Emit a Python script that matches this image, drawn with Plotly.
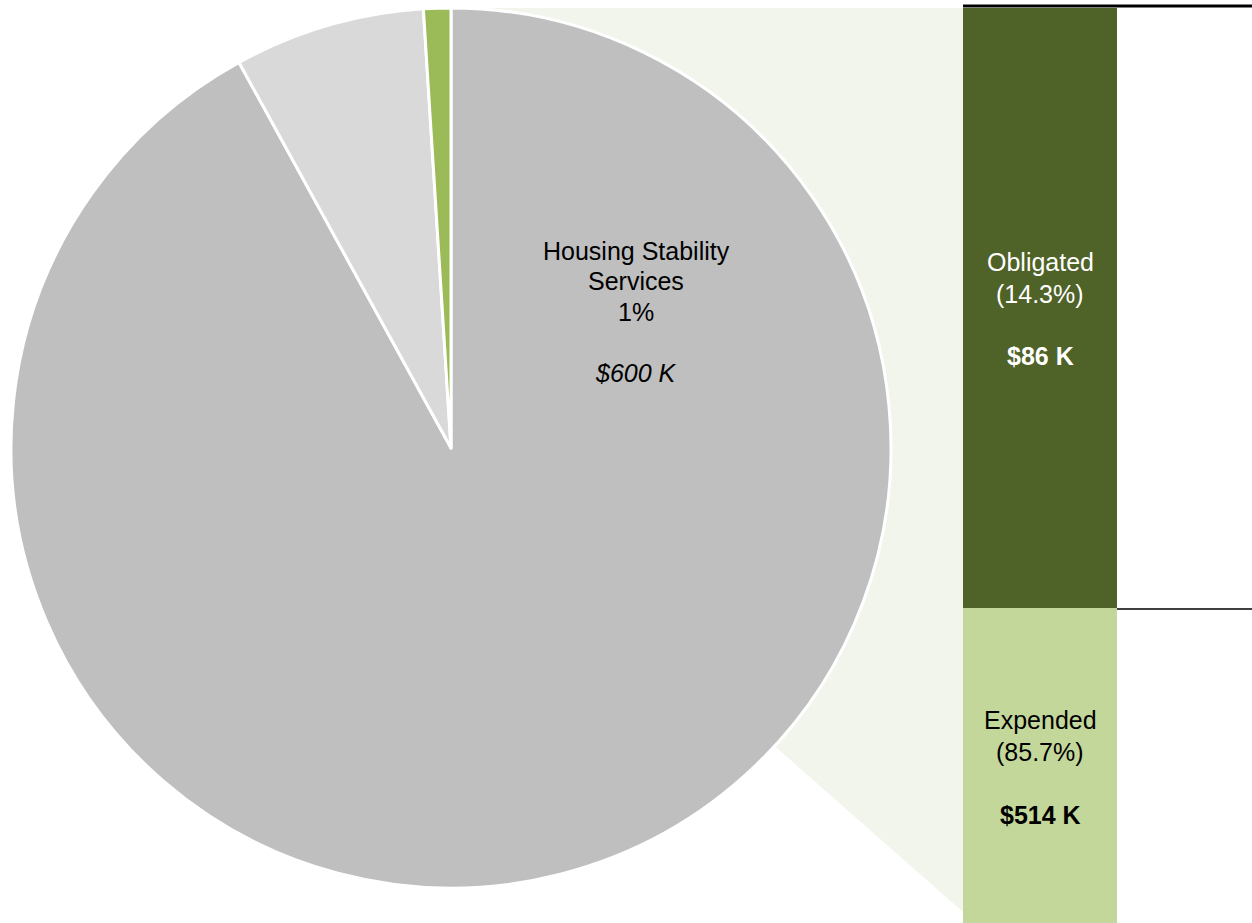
import plotly.graph_objects as go

W, H = 1252, 923

# ---- data ----
pie_labels = ["Other (dark)", "Other (light)", "Housing Stability Services"]
pie_values = [92, 7, 1]
pie_colors = ["#BFBFBF", "#D9D9D9", "#9BBB59"]
hss_name_lines = ["Housing Stability", "Services"]
hss_amount_k = 600
hss_pct = 1

bar_categories = ["Housing Stability Services"]
bar_series = ["Expended", "Obligated"]
bar_values_k = [514, 86]
bar_colors = ["#C4D79B", "#4F6228"]
bar_text_colors = ["black", "white"]


def px_x(x):
    return x / W


def px_y(y):
    return 1 - y / H


FONT = "Liberation Sans, Arial, sans-serif"
FS = 25

fig = go.Figure()

# pie
fig.add_trace(go.Pie(
    labels=pie_labels, values=pie_values, sort=False, direction="clockwise",
    rotation=0, marker=dict(colors=pie_colors, line=dict(color="white", width=3)),
    textinfo="none", hoverinfo="label+percent", showlegend=False,
    domain=dict(x=[px_x(11), px_x(891)], y=[px_y(888), px_y(8)]),
))

# stacked bar
for name, val, col in zip(bar_series, bar_values_k, bar_colors):
    fig.add_trace(go.Bar(x=bar_categories, y=[val], name=name, marker=dict(color=col, line=dict(width=0)),
                         showlegend=False, xaxis="x", yaxis="y"))

total = sum(bar_values_k)
fig.update_layout(
    width=W, height=H, margin=dict(l=0, r=0, t=0, b=0),
    paper_bgcolor="white", plot_bgcolor="rgba(0,0,0,0)",
    barmode="stack", bargap=0,
    font=dict(family=FONT, size=FS, color="black"),
    xaxis=dict(domain=[px_x(963), px_x(1117)], visible=False),
    yaxis=dict(domain=[0, px_y(8)], range=[468.85, total], visible=False),
)

# connector polygon (below everything)
pts = [(451, 8), (963, 8), (963, 912), (778, 749), (451, 448)]
path = "M " + " L ".join(f"{px_x(x)},{px_y(y)}" for x, y in pts) + " Z"
fig.add_shape(type="path", path=path, xref="paper", yref="paper",
              fillcolor="#F2F5EC", line=dict(width=0), layer="below")

# lines
fig.add_shape(type="line", xref="paper", yref="paper", x0=px_x(963), x1=1, y0=px_y(6), y1=px_y(6),
              line=dict(color="black", width=3))
fig.add_shape(type="line", xref="paper", yref="paper", x0=px_x(1117), x1=1, y0=px_y(609), y1=px_y(609),
              line=dict(color="#404040", width=2))


def add_line(text, x, y, color="black"):
    fig.add_annotation(xref="paper", yref="paper", x=px_x(x), y=px_y(y), xanchor="center", yanchor="middle",
                       text=text, showarrow=False, font=dict(family=FONT, size=FS, color=color))


# pie label
pie_lines = hss_name_lines + [f"{hss_pct}%", f"<i>${hss_amount_k} K</i>"]
for t, y in zip(pie_lines, [251, 281, 312, 373]):
    add_line(t, 636, y)

# bar labels
label_ys = [[720, 752, 815], [262, 294, 356]]
for name, val, tcol, ys in zip(bar_series, bar_values_k, bar_text_colors, label_ys):
    pct = val / total * 100
    for t, y in zip([name, f"({pct:.1f}%)", f"<b>${val} K</b>"], ys):
        add_line(t, 1040, y, tcol)

fig.write_html("out.html", config={"displayModeBar": False},
               post_script="document.body.style.margin='0px';")
